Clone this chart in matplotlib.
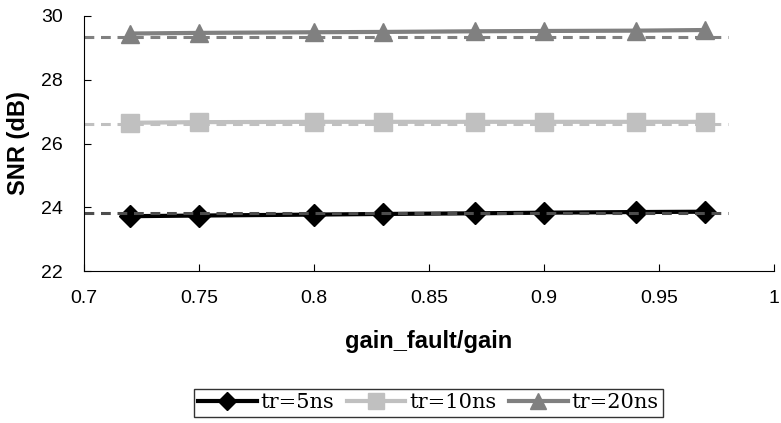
import matplotlib.pyplot as plt

# data
gain_ratio = [0.72, 0.75, 0.80, 0.83, 0.87, 0.90, 0.94, 0.97]
snr_5ns = [23.72, 23.74, 23.77, 23.79, 23.81, 23.83, 23.85, 23.86]
snr_10ns = [26.65, 26.67, 26.68, 26.68, 26.68, 26.68, 26.68, 26.68]
snr_20ns = [29.45, 29.47, 29.49, 29.50, 29.52, 29.53, 29.54, 29.56]

# reference levels (dashed)
ref_5ns = 23.82
ref_10ns = 26.61
ref_20ns = 29.33
ref_x = [0.70, 0.98]

xticks = [0.7, 0.75, 0.8, 0.85, 0.9, 0.95, 1]
xtick_labels = ["0.7", "0.75", "0.8", "0.85", "0.9", "0.95", "1"]
yticks = [22, 24, 26, 28, 30]

plt.rcParams["font.family"] = "Liberation Sans"

fig = plt.figure(figsize=(7.81, 4.23), dpi=100)
ax = fig.add_axes([0.1076, 0.3593, 0.8835, 0.6029])

dash = (0, (3.2, 2.2))
ax.plot(ref_x, [ref_10ns, ref_10ns], color="#c0c0c0", lw=2.2, linestyle=dash)
ax.plot(ref_x, [ref_20ns, ref_20ns], color="#808080", lw=2.2, linestyle=dash)

ax.plot(gain_ratio, snr_5ns, color="black", lw=3, marker="D", markersize=11,
        label="tr=5ns")
ax.plot(gain_ratio, snr_10ns, color="#c0c0c0", lw=3, marker="s", markersize=13,
        label="tr=10ns")
ax.plot(gain_ratio, snr_20ns, color="#808080", lw=3, marker="^", markersize=13,
        label="tr=20ns")
ax.plot(ref_x, [ref_5ns, ref_5ns], color="#4d4d4d", lw=2.2, linestyle=dash)

ax.set_xlim(0.7, 1.0)
ax.set_ylim(22, 30)
ax.set_xticks(xticks)
ax.set_xticklabels(xtick_labels)
ax.set_yticks(yticks)
ax.tick_params(axis="x", direction="in", length=5, pad=14, labelsize=14)
ax.tick_params(axis="y", direction="in", length=5, pad=15, labelsize=14)

for side in ["top", "right"]:
    ax.spines[side].set_visible(False)

ax.set_xlabel("gain_fault/gain", fontsize=17, fontweight="bold", labelpad=16)
ax.set_ylabel("SNR (dB)", fontsize=17, fontweight="bold", labelpad=8)

leg = fig.legend(loc="center", bbox_to_anchor=(0.5487, 0.0473), ncol=3,
                 prop={"family": "DejaVu Serif", "size": 15},
                 handlelength=2.8, handletextpad=0.2, columnspacing=0.6,
                 borderpad=0.2, fancybox=False, edgecolor="black",
                 markerscale=0.85)
leg.get_frame().set_linewidth(1)

fig.savefig("out.png", dpi=100)
